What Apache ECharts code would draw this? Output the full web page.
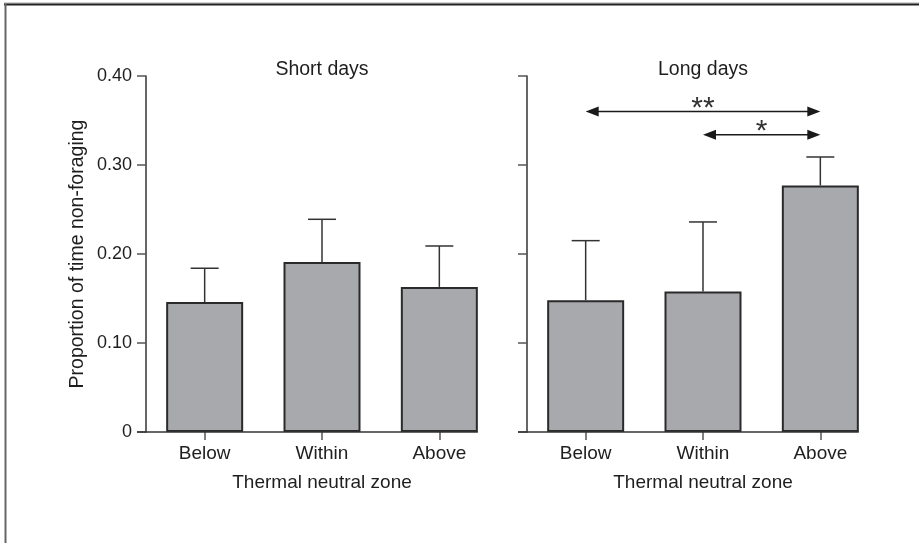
<!DOCTYPE html>
<html>
<head>
<meta charset="utf-8">
<script src="https://cdn.jsdelivr.net/npm/echarts@6/dist/echarts.min.js"></script>
<style>
html,body{margin:0;padding:0;background:#fff;}
#chart{width:919px;height:543px;}
</style>
</head>
<body>
<div id="chart"></div>
<script>
// ---- data ----
const categories = ['Below', 'Within', 'Above'];
const shortMeans = [0.146, 0.191, 0.163];
const shortErr = [0.038, 0.048, 0.046];
const longMeans = [0.148, 0.158, 0.277];
const longErr = [0.067, 0.078, 0.032];
const yTicks = [0, 0.10, 0.20, 0.30, 0.40];
const panelTitles = ['Short days', 'Long days'];
const xAxisTitle = 'Thermal neutral zone';
const yAxisTitle = 'Proportion of time non-foraging';
// significance comparisons on long days: [fromIndex, toIndex, yLevel]
const sigFrom = [0, 1];
const sigTo = [2, 2];
const sigLevel = [0.360, 0.334];
const sigLabels = ['**', '*'];

// ---- styles ----
const FONT = '"Liberation Sans", Arial, sans-serif';
const TXT = '#1e1e1e';
const BAR_W = 77;
const grids = [
  {left: 146, top: 76, width: 352, height: 356},
  {left: 527, top: 76, width: 352, height: 356}
];

const chart = echarts.init(document.getElementById('chart'));

function yAxisCfg(gi, showLabels) {
  return {
    type: 'value', gridIndex: gi, min: yTicks[0], max: yTicks[yTicks.length - 1], interval: yTicks[1] - yTicks[0],
    splitLine: {show: false},
    axisLine: {show: true, lineStyle: {color: '#333', width: 1.5}},
    axisTick: {show: true, inside: false, length: 9, lineStyle: {color: '#555', width: 1.5}},
    axisLabel: {show: showLabels, margin: 14, color: TXT, fontFamily: FONT, fontSize: 18,
      formatter: v => (v === 0 ? '0' : v.toFixed(2))},
    name: showLabels ? yAxisTitle : '',
    nameLocation: 'middle', nameGap: 58, nameRotate: 90,
    nameTextStyle: {color: TXT, fontFamily: FONT, fontSize: 19.5}
  };
}
function xAxisCfg(gi) {
  return {
    type: 'category', gridIndex: gi, data: categories,
    axisLine: {show: false},
    axisTick: {show: true, alignWithLabel: true, length: 8, lineStyle: {color: '#555', width: 1.5}},
    axisLabel: {margin: 12, color: TXT, fontFamily: FONT, fontSize: 19},
    name: xAxisTitle, nameLocation: 'middle', nameGap: 41,
    nameTextStyle: {color: TXT, fontFamily: FONT, fontSize: 19}
  };
}

function barSeries(gi, means) {
  return {
    type: 'bar', xAxisIndex: gi, yAxisIndex: gi, data: means, barWidth: BAR_W,
    itemStyle: {color: '#a8a9ac', borderColor: '#2a2a2a', borderWidth: 2},
    silent: true, z: 2
  };
}
function errSeries(gi, means, errs) {
  return {
    type: 'custom', xAxisIndex: gi, yAxisIndex: gi, z: 3, silent: true,
    data: means.map((m, i) => [i, m, errs[i]]),
    renderItem: function (params, api) {
      const i = api.value(0), m = api.value(1), e = api.value(2);
      const p0 = api.coord([i, m]);
      const p1 = api.coord([i, m + e]);
      const st = {stroke: '#333', lineWidth: 1.5};
      return {type: 'group', children: [
        {type: 'line', shape: {x1: p0[0], y1: p0[1], x2: p1[0], y2: p1[1]}, style: st},
        {type: 'line', shape: {x1: p1[0] - 14, y1: p1[1], x2: p1[0] + 14, y2: p1[1]}, style: st}
      ]};
    }
  };
}
function baseLineSeries(gi) {
  return {
    type: 'custom', xAxisIndex: gi, yAxisIndex: gi, z: 4, silent: true,
    data: [[categories.length - 1, 0]],
    renderItem: function (params, api) {
      const cs = params.coordSys;
      const p = api.coord([api.value(0), api.value(1)]);
      return {type: 'line', shape: {x1: cs.x - 9, y1: p[1], x2: p[0] + BAR_W / 2, y2: p[1]},
        style: {stroke: '#333', lineWidth: 1.5}};
    }
  };
}
function sigSeries(gi) {
  return {
    type: 'custom', xAxisIndex: gi, yAxisIndex: gi, z: 5, silent: true,
    data: sigFrom.map((f, k) => [f, sigTo[k], sigLevel[k]]),
    renderItem: function (params, api) {
      const a = api.coord([api.value(0), api.value(2)]);
      const b = api.coord([api.value(1), api.value(2)]);
      const y = a[1], hl = 13, hh = 5;
      const col = '#1a1a1a';
      return {type: 'group', children: [
        {type: 'line', shape: {x1: a[0] + hl - 1, y1: y, x2: b[0] - hl + 1, y2: y}, style: {stroke: col, lineWidth: 1.5}},
        {type: 'polygon', shape: {points: [[a[0], y], [a[0] + hl, y - hh], [a[0] + hl, y + hh]]}, style: {fill: col}},
        {type: 'polygon', shape: {points: [[b[0], y], [b[0] - hl, y - hh], [b[0] - hl, y + hh]]}, style: {fill: col}},
        {type: 'text', style: {text: sigLabels[params.dataIndex], x: (a[0] + b[0]) / 2, y: y - 3,
          textAlign: 'center', textVerticalAlign: 'middle', fill: '#333', font: '30px ' + FONT}}
      ]};
    }
  };
}

const titleGraphics = panelTitles.map((t, gi) => ({
  type: 'text',
  style: {text: t, x: grids[gi].left + grids[gi].width / 2, y: 70, textAlign: 'center', textVerticalAlign: 'middle',
    fill: TXT, font: '19.5px ' + FONT}
}));

const option = {
  animation: false,
  backgroundColor: '#fff',
  grid: grids,
  xAxis: [xAxisCfg(0), xAxisCfg(1)],
  yAxis: [yAxisCfg(0, true), yAxisCfg(1, false)],
  series: [
    barSeries(0, shortMeans), errSeries(0, shortMeans, shortErr), baseLineSeries(0),
    barSeries(1, longMeans), errSeries(1, longMeans, longErr), baseLineSeries(1),
    sigSeries(1)
  ],
  graphic: [
    {type: 'line', shape: {x1: 4, y1: 3, x2: 919, y2: 3}, style: {stroke: '#aaa', lineWidth: 1}},
    {type: 'line', shape: {x1: 4, y1: 4.5, x2: 919, y2: 4.5}, style: {stroke: '#222', lineWidth: 2}},
    {type: 'line', shape: {x1: 5.5, y1: 4, x2: 5.5, y2: 543}, style: {stroke: '#666', lineWidth: 2}}
  ].concat(titleGraphics)
};
chart.setOption(option);
</script>
</body>
</html>
